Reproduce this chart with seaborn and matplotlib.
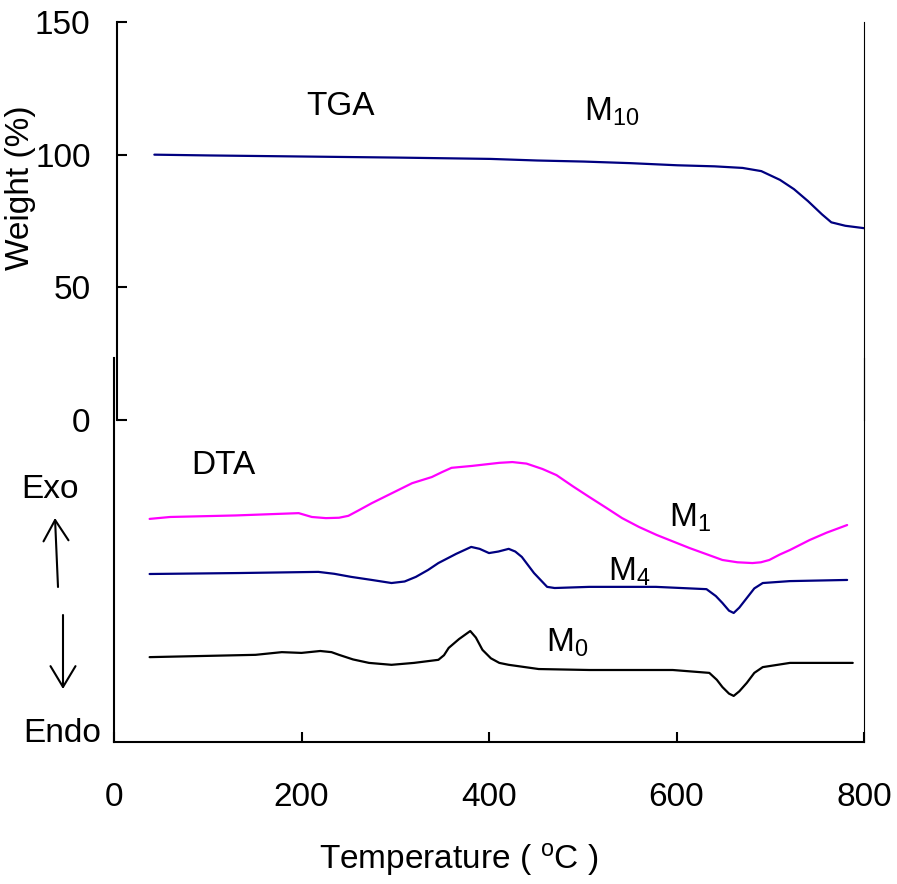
import matplotlib
matplotlib.use("Agg")
import matplotlib.pyplot as plt
import seaborn as sns

sns.set_style("white")
plt.rcParams['font.family'] = ['Liberation Sans', 'DejaVu Sans']
plt.rcParams['mathtext.fontset'] = 'custom'
plt.rcParams['mathtext.rm'] = 'Liberation Sans'
plt.rcParams['mathtext.it'] = 'Liberation Sans:italic'
for k in ['text.color', 'axes.labelcolor', 'xtick.color', 'ytick.color']:
    plt.rcParams[k] = 'black'
plt.rcParams['xtick.bottom'] = True
plt.rcParams['ytick.left'] = True
plt.rcParams['lines.solid_joinstyle'] = 'round'

# TGA (M10), weight %
tga_temp = [40, 100, 200, 300, 400, 450, 500, 550, 600, 640, 670, 690, 710, 725, 740, 755, 765, 780, 800]
tga_weight = [100, 99.7, 99.3, 98.9, 98.4, 97.8, 97.4, 96.8, 96.0, 95.6, 95.0, 93.8, 90.5, 87.0, 82.5, 77.5, 74.5, 73.2, 72.3]

# DTA curves (arbitrary units)
m1_temp = [38, 60, 130, 197, 211, 226, 240, 250, 260, 275, 318, 339, 350, 360, 382, 411, 425, 440, 457, 472,
           490, 507, 525, 542, 560, 579, 614, 649, 665, 681, 690, 699, 710, 721, 742, 760, 782]
m1_dta = [58.1, 58.6, 59.0, 59.6, 58.6, 58.3, 58.4, 58.9, 60.2, 62.2, 67.4, 69.0, 70.3, 71.4, 71.9, 72.7, 72.9, 72.5, 71.1, 69.5,
          66.5, 63.8, 61.0, 58.3, 56.0, 53.9, 50.5, 47.4, 46.8, 46.6, 46.8, 47.4, 48.8, 50.0, 52.6, 54.5, 56.5]

m4_temp = [38, 133, 218, 235, 253, 275, 296, 310, 322, 335, 346, 365, 381, 390, 400, 410, 421, 428, 435, 448,
           462, 470, 507, 578, 632, 642, 649, 656, 661, 667, 675, 683, 692, 721, 782]
m4_dta = [43.75, 44.0, 44.3, 43.8, 43.0, 42.2, 41.4, 41.8, 43.0, 44.8, 46.6, 49.0, 50.8, 50.3, 49.2, 49.6, 50.3, 49.6, 48.2, 44.0,
          40.4, 40.1, 40.4, 40.4, 39.8, 38.0, 36.2, 34.2, 33.6, 35.0, 37.5, 40.0, 41.4, 41.9, 42.2]

m0_temp = [38, 151, 179, 200, 220, 232, 240, 255, 272, 296, 320, 346, 352, 357, 368, 380, 386, 393, 402, 411,
           421, 453, 507, 596, 635, 643, 649, 656, 661, 667, 675, 683, 692, 721, 788]
m0_dta = [22.1, 22.7, 23.4, 23.2, 23.7, 23.4, 22.7, 21.5, 20.6, 20.1, 20.6, 21.4, 22.6, 24.5, 26.8, 28.9, 27.2, 24.0, 21.8, 20.6,
          20.1, 19.0, 18.75, 18.75, 18.0, 16.2, 14.3, 12.6, 12.0, 13.2, 15.4, 18.0, 19.5, 20.6, 20.6]

W, H = 897, 884
fig = plt.figure(figsize=(W / 100, H / 100), dpi=100)
fs = 24

# top: TGA
ax1 = fig.add_axes([117 / W, 1 - 420 / H, (864 - 117) / W, (420 - 22) / H])
ax1.patch.set_alpha(0)
sns.lineplot(x=tga_temp, y=tga_weight, ax=ax1, color='#000080', lw=1.6)
ax1.set_xlim(0, 800)
ax1.set_ylim(0, 150)
ax1.set_yticks([0, 50, 100, 150])
ax1.set_xticks([])
for s in ['top', 'bottom']:
    ax1.spines[s].set_visible(False)
ax1.spines['left'].set_linewidth(1.5)
ax1.spines['left'].set_color('black')
ax1.spines['right'].set_linewidth(0.8)
ax1.spines['right'].set_color('black')
ax1.tick_params(axis='y', direction='in', length=7, width=1.5, labelsize=fs, pad=19)
ax1.set_ylabel('Weight (%)', fontsize=fs)
ax1.yaxis.set_label_coords(-0.108, 0.583)
ax1.text(239, 118, 'TGA', fontsize=fs, ha='center', va='center')
ax1.text(530, 116, r'M$_{10}$', fontsize=fs, ha='center', va='center')

# bottom: DTA
ax2 = fig.add_axes([114 / W, 1 - 742 / H, (864 - 114) / W, (742 - 358) / H])
ax2.patch.set_alpha(0)
sns.lineplot(x=m1_temp, y=m1_dta, ax=ax2, color='#FF00FF', lw=1.6)
sns.lineplot(x=m4_temp, y=m4_dta, ax=ax2, color='#000080', lw=1.6)
sns.lineplot(x=m0_temp, y=m0_dta, ax=ax2, color='black', lw=1.6)
ax2.set_xlim(0, 800)
ax2.set_ylim(0, 100)
ax2.set_yticks([])
ax2.set_xticks([0, 200, 400, 600, 800])
ax2.spines['top'].set_visible(False)
for s in ['left', 'bottom']:
    ax2.spines[s].set_linewidth(1.5)
    ax2.spines[s].set_color('black')
ax2.spines['right'].set_linewidth(0.8)
ax2.spines['right'].set_color('black')
ax2.tick_params(axis='x', direction='in', length=7, width=1.5, labelsize=fs, pad=29)
ax2.set_xlabel(r'Temperature ( $^{\mathrm{o}}$C )', fontsize=fs, va='center')
ax2.xaxis.set_label_coords(0.46, -0.305)
ax2.text(117, 71.9, 'DTA', fontsize=fs, ha='center', va='center')
ax2.text(614, 58.3, r'M$_1$', fontsize=fs, ha='center', va='center')
ax2.text(550, 44.3, r'M$_4$', fontsize=fs, ha='center', va='center')
ax2.text(483, 25.8, r'M$_0$', fontsize=fs, ha='center', va='center')

# Exo / Endo markers
fig.text(50 / W, 1 - 490 / H, 'Exo', fontsize=fs, ha='center', va='center')
fig.text(62 / W, 1 - 733 / H, 'Endo', fontsize=fs, ha='center', va='center')
ax2.annotate('', xy=(55 / W, 1 - 518 / H), xytext=(58 / W, 1 - 587 / H),
             xycoords='figure fraction', textcoords='figure fraction',
             arrowprops=dict(arrowstyle='->,head_length=0.5,head_width=0.3', lw=1.5,
                             color='black', mutation_scale=30, shrinkA=0, shrinkB=0))
ax2.annotate('', xy=(63 / W, 1 - 689 / H), xytext=(63 / W, 1 - 615 / H),
             xycoords='figure fraction', textcoords='figure fraction',
             arrowprops=dict(arrowstyle='->,head_length=0.5,head_width=0.3', lw=1.5,
                             color='black', mutation_scale=30, shrinkA=0, shrinkB=0))

fig.savefig('out.png', dpi=100)
